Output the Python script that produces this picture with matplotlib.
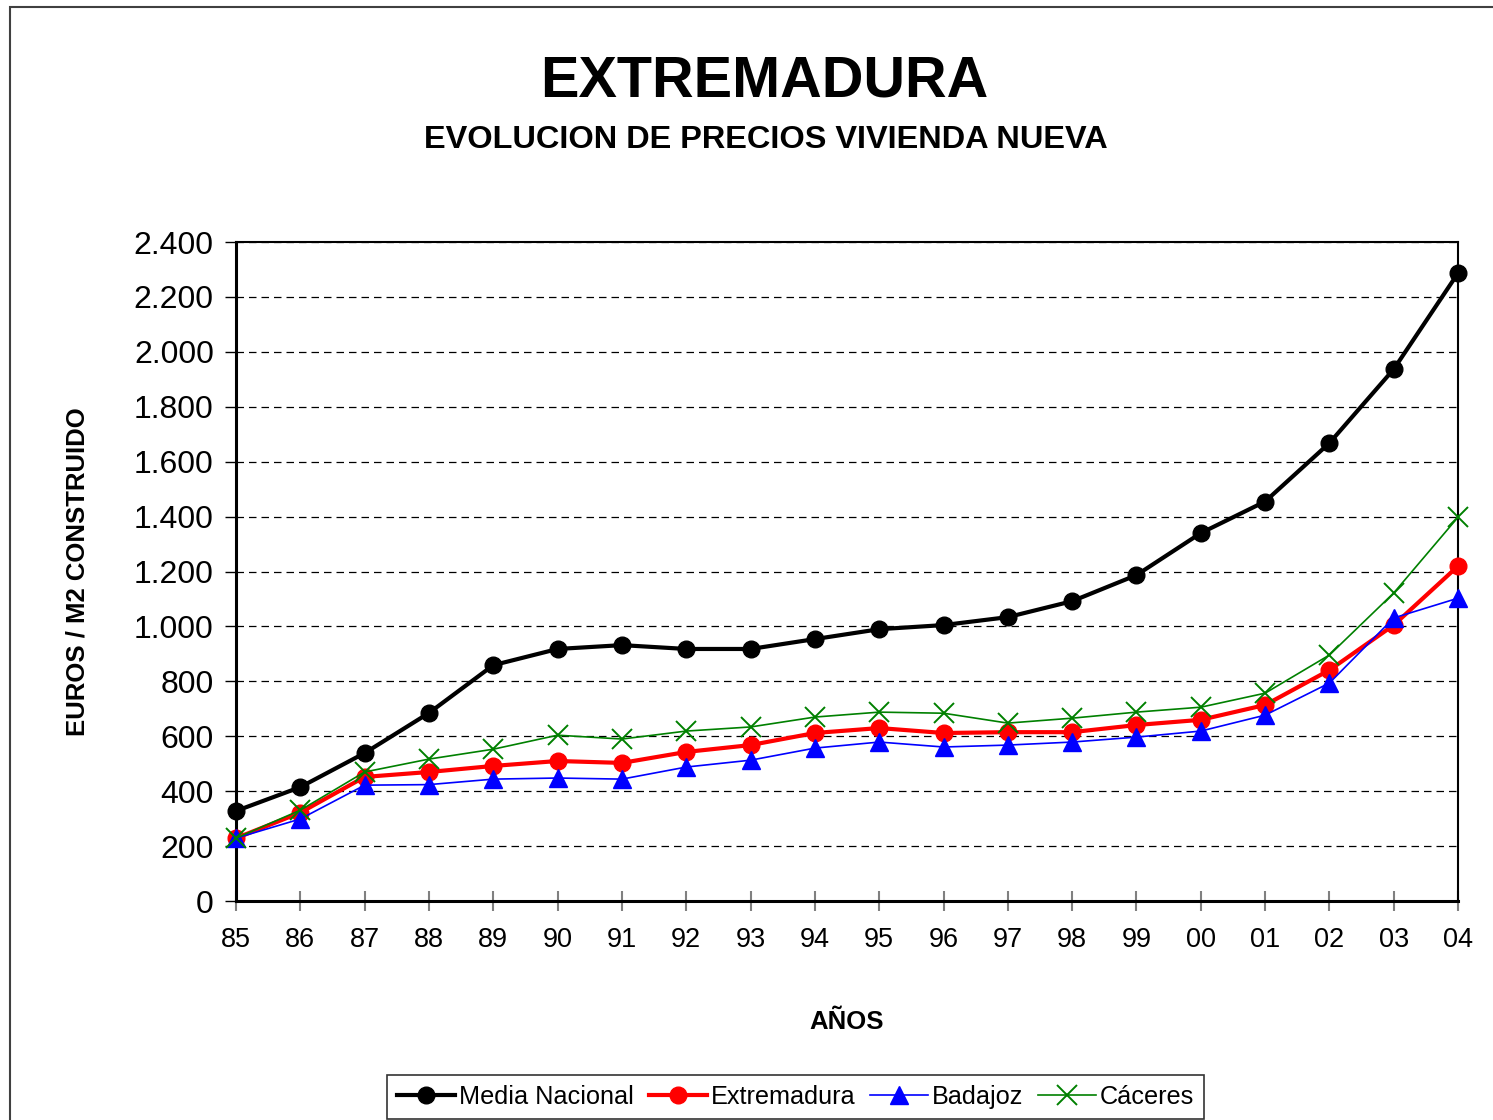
import matplotlib.pyplot as plt
from matplotlib.patches import Rectangle
from matplotlib.ticker import FuncFormatter

plt.rcParams['font.family'] = ['Liberation Sans', 'DejaVu Sans']

#%% datos (euros / m2 construido)
years = ['85', '86', '87', '88', '89', '90', '91', '92', '93', '94',
         '95', '96', '97', '98', '99', '00', '01', '02', '03', '04']

media_nacional = [328, 415, 539, 685, 859, 918, 932, 918, 918, 954,
                  990, 1005, 1034, 1092, 1187, 1340, 1455, 1668, 1937, 2287]
extremadura = [229, 322, 452, 470, 492, 510, 503, 543, 568, 612,
               630, 612, 615, 615, 641, 660, 714, 841, 1005, 1220]
badajoz = [229, 299, 422, 424, 444, 448, 444, 488, 513, 557,
           579, 561, 568, 579, 597, 619, 677, 794, 1031, 1103]
caceres = [229, 331, 470, 517, 553, 604, 590, 619, 634, 670,
           688, 684, 648, 666, 688, 706, 757, 896, 1122, 1398]

x = list(range(len(years)))

#%% grafico
fig = plt.figure(figsize=(14.93, 11.2), dpi=100)
ax = fig.add_axes([0.1581, 0.1955, 0.8185, 0.5884])

ax.plot(x, media_nacional, color='black', lw=3, marker='o', ms=12,
        label='Media Nacional', clip_on=False, zorder=3)
ax.plot(x, extremadura, color='red', lw=3, marker='o', ms=12,
        label='Extremadura', clip_on=False, zorder=4)
ax.plot(x, badajoz, color='blue', lw=1.2, marker='^', ms=13,
        label='Badajoz', clip_on=False, zorder=5)
ax.plot(x, caceres, color='green', lw=1.2, marker='x', ms=15, mew=1.4,
        label='Cáceres', clip_on=False, zorder=6)

ax.set_xlim(0, 19)
ax.set_ylim(0, 2400)
ax.set_yticks(range(0, 2401, 200))
ax.yaxis.set_major_formatter(FuncFormatter(lambda v, p: f"{int(v):,}".replace(",", ".")))
ax.set_xticks(x)
ax.set_xticklabels(years)

ax.yaxis.grid(True, color='black', linestyle=(0, (6, 4)), lw=0.9)
ax.set_axisbelow(True)

ax.tick_params(axis='y', direction='out', length=8, width=1, labelsize=23, pad=8)
ax.tick_params(axis='x', direction='inout', length=14, width=1.5, color='gray',
               labelsize=19.5, pad=12)
for s in ax.spines.values():
    s.set_linewidth(1.5)
ax.spines['left'].set_linewidth(2.2)
ax.spines['bottom'].set_linewidth(2.2)

ax.set_xlabel('AÑOS', fontsize=18.5, fontweight='bold', labelpad=41)
ax.set_ylabel('EUROS / M2 CONSTRUIDO', fontsize=18.5, fontweight='bold', labelpad=32)

fig.text(0.512, 0.927, 'EXTREMADURA', ha='center', va='center',
         fontsize=41.5, fontweight='bold')
fig.text(0.513, 0.875, 'EVOLUCION DE PRECIOS VIVIENDA NUEVA', ha='center',
         va='center', fontsize=23.4, fontweight='bold')

# marco exterior
fig.add_artist(Rectangle((10 / 1493, -0.1), 1.2, 0.1 + 1 - 7 / 1120,
                         transform=fig.transFigure, fill=False,
                         edgecolor='#404040', lw=1.5))

leg = ax.legend(loc='upper left', bbox_to_anchor=(387 / 1493, 1 - 1075 / 1120),
                bbox_transform=fig.transFigure, ncol=4, fontsize=18.2,
                frameon=True, fancybox=False, edgecolor='black',
                handlelength=2.3, handletextpad=0.15, columnspacing=0.58,
                borderpad=0.4, borderaxespad=0)
leg.get_frame().set_linewidth(1.2)

fig.savefig('out.png', dpi=100)
